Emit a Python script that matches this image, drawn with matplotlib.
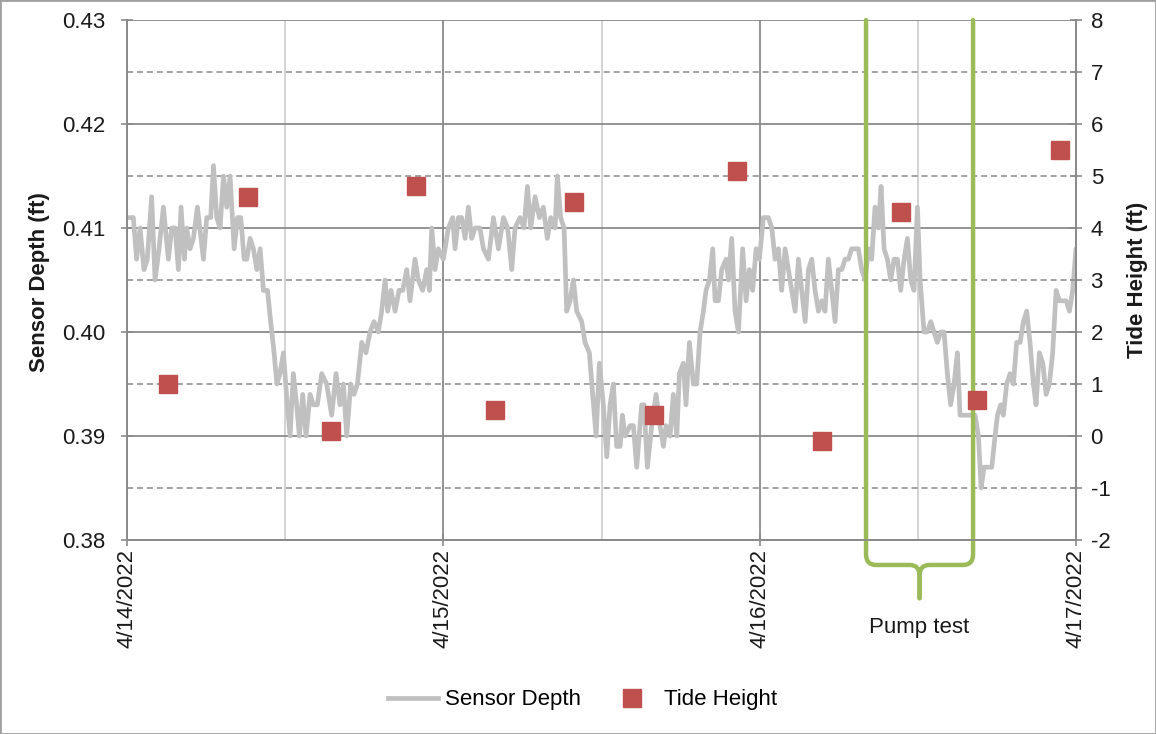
import matplotlib
matplotlib.use("Agg")
import matplotlib.pyplot as plt
from matplotlib.path import Path
from matplotlib.patches import PathPatch, Rectangle
from matplotlib.lines import Line2D
from matplotlib.ticker import MultipleLocator, FixedLocator

plt.rcParams['font.family'] = ['Liberation Sans', 'DejaVu Sans']

# ---------------- data ----------------
# hours since 4/14/2022 00:00
sensor_hours = [
    0.0, 0.48, 0.73, 0.99, 1.29, 1.54, 1.87, 2.13, 2.43, 2.76, 3.14, 3.39, 3.65, 3.90, 4.10, 4.35, 4.53, 4.78,
    5.04, 5.34, 5.80, 6.05, 6.35, 6.56, 6.81, 7.06, 7.32, 7.57, 7.82, 8.13, 8.38, 8.63, 8.89, 9.09, 9.34, 9.59,
    9.85, 10.10, 10.35, 10.66, 10.90, 11.16, 11.37, 11.60, 11.87, 12.10, 12.37,
    12.62, 12.87, 13.08, 13.33, 13.58, 13.89, 14.14, 14.44, 14.77, 15.15, 15.53, 15.86, 16.16, 16.42, 16.67,
    16.97, 17.22, 17.48, 17.81, 18.13, 18.44, 18.74, 19.07, 19.32, 19.58, 19.78, 20.03, 20.34, 20.64, 20.92,
    21.22, 21.47, 21.85, 22.10, 22.43, 22.74, 22.94, 23.12, 23.37, 23.62, 24.00,
    24.38, 24.71, 24.89, 25.14, 25.39, 25.65, 25.90, 26.15, 26.41, 26.78, 27.04, 27.42, 27.80, 28.18, 28.56,
    28.88, 29.19, 29.44, 29.82, 30.12, 30.38, 30.63, 30.96, 31.29, 31.59, 31.89, 32.15, 32.48, 32.65, 32.90,
    33.16, 33.36, 33.61, 33.87, 34.12, 34.50, 34.75, 35.08, 35.33, 35.59, 35.84, 36.14, 36.40, 36.65,
    36.90, 37.15, 37.41, 37.58, 37.79, 38.17, 38.42, 38.67, 39.05, 39.23, 39.48, 39.81, 40.14, 40.44, 40.70,
    40.90, 41.20, 41.45, 41.71, 41.91, 42.21, 42.41, 42.67, 42.97, 43.22, 43.48, 43.73, 43.93, 44.19, 44.44,
    44.62, 44.87, 45.12, 45.45, 45.63, 45.88, 46.13, 46.39, 46.71, 46.97, 47.22, 47.47, 47.73, 47.98, 48.28, 48.66,
    48.92, 49.17, 49.42, 49.67, 49.93, 50.18, 50.43, 50.69, 50.94, 51.19, 51.45, 51.70, 51.95, 52.20, 52.46,
    52.71, 52.96, 53.21, 53.47, 53.72, 53.97, 54.23, 54.48, 54.73, 54.98, 55.24, 55.49, 55.74, 56.00, 56.25,
    56.50, 56.75, 57.01, 57.21, 57.44, 57.69, 57.94, 58.20, 58.45, 58.70, 58.96, 59.21, 59.46, 59.71, 59.97, 60.17,
    60.47, 60.72, 60.98, 61.23, 61.48, 61.74, 61.99, 62.24, 62.49, 62.75, 63.00, 63.20, 63.58, 63.96, 64.34,
    64.60, 64.80, 65.02, 65.28, 65.61, 65.86, 66.04, 66.29, 66.49, 66.74, 67.00, 67.25, 67.50, 67.76, 68.01,
    68.26, 68.51, 68.77, 68.97, 69.22, 69.48, 69.73, 69.98, 70.23, 70.49, 70.74, 70.99, 71.25, 71.50, 71.75, 72.00,
]
sensor_depth = [
    0.411, 0.411, 0.407, 0.410, 0.406, 0.407, 0.413, 0.405, 0.408, 0.412, 0.407, 0.410, 0.410, 0.406, 0.412, 0.407, 0.410, 0.408,
    0.409, 0.412, 0.407, 0.411, 0.411, 0.416, 0.411, 0.410, 0.415, 0.412, 0.415, 0.408, 0.411, 0.411, 0.407, 0.407, 0.409, 0.408,
    0.406, 0.408, 0.404, 0.404, 0.401, 0.398, 0.395, 0.396, 0.398, 0.394, 0.390,
    0.396, 0.393, 0.390, 0.394, 0.390, 0.394, 0.393, 0.393, 0.396, 0.395, 0.392, 0.396, 0.393, 0.395, 0.390,
    0.395, 0.394, 0.395, 0.399, 0.398, 0.400, 0.401, 0.400, 0.402, 0.405, 0.402, 0.404, 0.402, 0.404, 0.404,
    0.406, 0.403, 0.407, 0.405, 0.404, 0.406, 0.404, 0.410, 0.406, 0.408, 0.407,
    0.410, 0.411, 0.408, 0.411, 0.411, 0.409, 0.412, 0.409, 0.410, 0.410, 0.408, 0.407, 0.411, 0.408, 0.411,
    0.410, 0.406, 0.410, 0.411, 0.410, 0.414, 0.410, 0.413, 0.411, 0.412, 0.409, 0.411, 0.410, 0.415, 0.411,
    0.410, 0.402, 0.403, 0.405, 0.402, 0.401, 0.399, 0.398, 0.394, 0.390, 0.397, 0.393, 0.388, 0.393,
    0.395, 0.389, 0.389, 0.392, 0.390, 0.391, 0.391, 0.387, 0.393, 0.393, 0.387, 0.391, 0.394, 0.391, 0.389,
    0.391, 0.390, 0.394, 0.390, 0.396, 0.397, 0.393, 0.399, 0.395, 0.395, 0.400, 0.402, 0.404, 0.405, 0.408,
    0.403, 0.403, 0.406, 0.407, 0.405, 0.409, 0.402, 0.400, 0.408, 0.403, 0.406, 0.404, 0.408, 0.407, 0.411, 0.411,
    0.410, 0.407, 0.408, 0.404, 0.408, 0.406, 0.404, 0.402, 0.407, 0.404, 0.401, 0.406, 0.407, 0.404, 0.402,
    0.403, 0.402, 0.407, 0.404, 0.401, 0.406, 0.406, 0.407, 0.407, 0.408, 0.408, 0.408, 0.406, 0.405, 0.408,
    0.407, 0.412, 0.410, 0.414, 0.408, 0.407, 0.405, 0.407, 0.407, 0.404, 0.407, 0.409, 0.405, 0.404, 0.412, 0.405,
    0.400, 0.400, 0.401, 0.400, 0.399, 0.400, 0.400, 0.396, 0.393, 0.395, 0.398, 0.392, 0.392, 0.392, 0.392,
    0.390, 0.385, 0.387, 0.387, 0.387, 0.390, 0.392, 0.393, 0.392, 0.395, 0.396, 0.395, 0.399, 0.399, 0.401,
    0.402, 0.399, 0.395, 0.393, 0.398, 0.397, 0.394, 0.395, 0.398, 0.404, 0.403, 0.403, 0.403, 0.402, 0.404, 0.408,
]

tide_hours = [3.11, 9.18, 15.48, 21.93, 27.92, 33.91, 39.98, 46.28, 52.73, 58.72, 64.49, 70.79]
tide_height = [1.0, 4.6, 0.1, 4.8, 0.5, 4.5, 0.4, 5.1, -0.1, 4.3, 0.7, 5.5]

date_ticks = [0, 24, 48, 72]
date_labels = ["4/14/2022", "4/15/2022", "4/16/2022", "4/17/2022"]

pump_start, pump_end = 56.07, 64.19   # hours, pump test bracket

# ---------------- figure ----------------
W, H = 1156, 734
fig = plt.figure(figsize=(W / 100, H / 100), dpi=100)
L, R, T, B = 127, 1076, 20, 540
ax = fig.add_axes([L / W, 1 - B / H, (R - L) / W, (B - T) / H])
ax2 = ax.twinx()

GRID = '#8a8a8a'
SPINE = '#8a8a8a'
TXT = '#1a1a1a'
FS = 16

ax.set_xlim(0, 72)
ax.set_ylim(0.38, 0.43)
ax2.set_ylim(-2, 8)

# gridlines
ax.yaxis.set_major_locator(MultipleLocator(0.01))
ax.yaxis.set_minor_locator(FixedLocator([0.385, 0.395, 0.405, 0.415, 0.425]))
ax.xaxis.set_major_locator(FixedLocator(date_ticks))
ax.xaxis.set_minor_locator(FixedLocator([12, 36, 60]))
ax.grid(True, which='major', axis='y', color=GRID, lw=1.3, zorder=0)
ax.grid(True, which='minor', axis='y', color=GRID, lw=1.1, ls=(0, (4, 2.5)), zorder=0)
ax.grid(True, which='major', axis='x', color=GRID, lw=1.3, zorder=0)
ax.grid(True, which='minor', axis='x', color='#c8c8c8', lw=1.1, zorder=0)
ax.set_axisbelow(True)

ax.plot(sensor_hours, sensor_depth, color='#c0c0c0', lw=3.4, solid_joinstyle='round',
        solid_capstyle='round', zorder=2)

# pump-test bracket
ybot = 0.3776
ytip = 0.3744
dx = 0.75
dy = 0.001
xc = (pump_start + pump_end) / 2
codes = [Path.MOVETO, Path.LINETO, Path.CURVE3, Path.CURVE3, Path.LINETO, Path.CURVE3, Path.CURVE3, Path.LINETO]
verts_l = [(pump_start, 0.43), (pump_start, ybot + dy), (pump_start, ybot), (pump_start + dx, ybot),
           (xc - dx, ybot), (xc, ybot), (xc, ybot - dy), (xc, ytip)]
verts_r = [(pump_end, 0.43), (pump_end, ybot + dy), (pump_end, ybot), (pump_end - dx, ybot),
           (xc + dx, ybot), (xc, ybot), (xc, ybot - dy), (xc, ytip)]
for verts in (verts_l, verts_r):
    ax.add_patch(PathPatch(Path(verts, codes), fill=False, edgecolor='#9bbb59', lw=3.2,
                           capstyle='round', joinstyle='round', clip_on=False, zorder=3))
ax.text(xc, 0.37154, "Pump test", ha='center', va='center', fontsize=FS, color=TXT)

ax2.plot(tide_hours, tide_height, ls='none', marker='s', ms=12.5, color='#c0504d',
         markeredgecolor='#c0504d', zorder=4)

# ticks and labels
ax.set_xticks(date_ticks)
ax.set_xticklabels(date_labels, rotation=90, fontsize=FS, color=TXT)
ax.set_yticks([0.38, 0.39, 0.40, 0.41, 0.42, 0.43])
ax.set_yticklabels(["0.38", "0.39", "0.40", "0.41", "0.42", "0.43"], fontsize=FS, color=TXT)
ax2.set_yticks(range(-2, 9))
ax2.set_yticklabels([str(v) for v in range(-2, 9)], fontsize=FS, color=TXT)
ax.tick_params(axis='y', which='major', direction='inout', length=9, width=1.2, color=SPINE, pad=11)
ax.tick_params(axis='x', which='major', direction='inout', length=9, width=1.2, color=SPINE, pad=2)
ax.tick_params(axis='both', which='minor', length=0)
ax2.tick_params(axis='y', direction='inout', length=9, width=1.2, color=SPINE, pad=6)

fig.text(40 / W, 1 - 282 / H, "Sensor Depth (ft)", rotation=90, ha='center', va='center',
         fontsize=FS, fontweight='bold', color=TXT)
fig.text(1137 / W, 1 - 280 / H, "Tide Height (ft)", rotation=90, ha='center', va='center',
         fontsize=FS, fontweight='bold', color=TXT)

for a in (ax, ax2):
    for s in a.spines.values():
        s.set_color(SPINE)
        s.set_linewidth(1.2)
    a.spines['top'].set_visible(False)

# legend
handles = [Line2D([], [], color='#c0c0c0', lw=3.4),
           Line2D([], [], ls='none', marker='s', ms=12.5, color='#c0504d')]
fig.legend(handles, ["Sensor Depth", "Tide Height"], loc='center', bbox_to_anchor=(0.504, 1 - 700 / H),
           ncol=2, frameon=False, fontsize=FS, handlelength=2.25, columnspacing=1.2, handletextpad=0.3)

fig.patches.append(Rectangle((0, 0), 1, 1, transform=fig.transFigure, fill=False,
                             edgecolor='#a0a0a0', lw=2))

fig.savefig("out.png", dpi=100)
